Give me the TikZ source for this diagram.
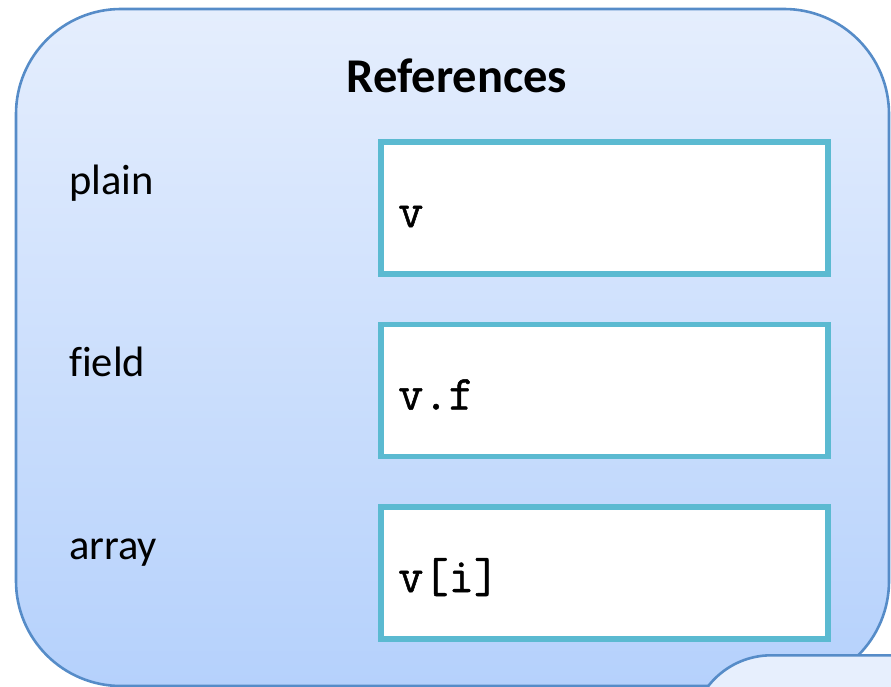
\documentclass[tikz,border=0pt]{standalone}
\usepackage{fontspec}
\setmainfont{Carlito}[Ligatures=NoCommon]
\setmonofont{Latin Modern Mono}[FakeBold=1]
\definecolor{frameblue}{RGB}{86,140,200}
\definecolor{paneltop}{RGB}{229,238,253}
\definecolor{panelbottom}{RGB}{181,209,252}
\definecolor{panellight}{RGB}{231,239,253}
\definecolor{slotcyan}{RGB}{91,186,209}
\begin{document}
\begin{tikzpicture}[x=1pt,y=-1pt,
  panel/.style={draw=frameblue, line width=2.6pt, rounded corners=105pt,
    top color=paneltop, bottom color=panelbottom, shading angle=0},
  slot/.style={draw=slotcyan, line width=5.5pt, fill=white, rectangle,
    minimum width=447pt, minimum height=132pt, inner sep=0pt},
  code/.style={font=\ttfamily\fontsize{49}{54}\selectfont, anchor=base west, inner sep=0pt},
  tag/.style={font=\fontsize{42.5}{48}\selectfont, anchor=base west, inner sep=0pt},
  title/.style={font=\bfseries\fontsize{48.5}{54}\selectfont, anchor=base, inner sep=0pt}]
\useasboundingbox (0,0) rectangle (891,687);
\begin{scope}
\clip (0,0) rectangle (891,687);
% outer container
\node[panel, rectangle, minimum width=873pt, minimum height=677pt, inner sep=0pt]
  (container) at (452.5,347.5) {};
% neighbouring panel peeking in at the lower right
\node[draw=frameblue, line width=2.6pt, fill=panellight, rounded corners=80pt,
  rectangle, minimum width=400pt, minimum height=300pt, anchor=north west, inner sep=0pt]
  (next) at (690,654) {};
\end{scope}
\node[title] (head) at (457,93) {References};
% reference kinds
\node[slot] (plainbox) at (604.5,208) {};
\node[slot] (fieldbox) at (604.5,390.5) {};
\node[slot] (arraybox) at (604.5,573) {};
\node[tag] (plainlbl) at (69,194) {plain};
\node[tag] (fieldlbl) at (69,376.5) {field};
\node[tag] (arraylbl) at (69,559) {array};
\node[code] (plaincode) at (398,227) {v};
\node[code] (fieldcode) at (398,409.5) {v.f};
\node[code] (arraycode) at (398,592) {v[i]};
\end{tikzpicture}
\end{document}
